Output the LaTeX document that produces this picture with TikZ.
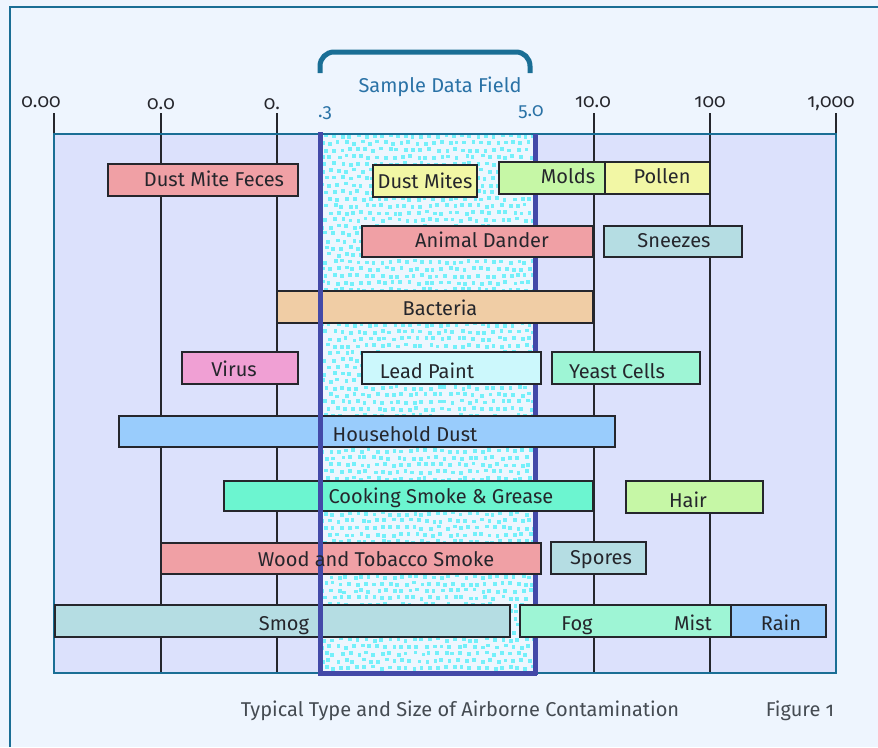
\documentclass[tikz,border=0pt]{standalone}
\usepackage{fontspec}
\setmainfont{Fira Sans}[Numbers=OldStyle]
\definecolor{page}{HTML}{EEF5FE}
\definecolor{plotbg}{HTML}{DCE1FC}
\definecolor{frame}{HTML}{1A6E95}
\definecolor{field}{HTML}{EEF6FE}
\definecolor{dotc}{HTML}{74F0FA}
\definecolor{purp}{HTML}{4349A8}
\definecolor{ink}{HTML}{25262C}
\definecolor{capt}{HTML}{454B52}
\definecolor{tealtxt}{HTML}{2A72A6}
\definecolor{rose}{HTML}{F0A0A5}
\definecolor{lemon}{HTML}{F2F7A5}
\definecolor{lime}{HTML}{C6F7A6}
\definecolor{sky}{HTML}{B5DDE3}
\definecolor{peach}{HTML}{F0CDA5}
\definecolor{pink}{HTML}{F0A0D4}
\definecolor{ice}{HTML}{CCF8FC}
\definecolor{mint}{HTML}{9EF5D5}
\definecolor{blu}{HTML}{99CCFC}
\definecolor{aqua}{HTML}{6CF5D0}
\tikzset{
  bar/.style={draw=ink, line width=1.6pt},
  lbl/.style={text=ink, anchor=base, inner sep=0pt, font=\fontsize{20}{22}\selectfont},
  axl/.style={lbl, font=\fontsize{19}{21}\selectfont},
  tlbl/.style={lbl, text=tealtxt},
  gridline/.style={draw=ink, line width=1.6pt},
}
\begin{document}
\begin{tikzpicture}[x=1pt,y=-1pt]
   \useasboundingbox (0,0) rectangle (878,747);
   % page and frame
   \fill[page] (0,0) rectangle (878,747);
   \draw[frame, line width=2.5pt] (10,747) -- (10,7) -- (878,7);
   % plot area
   \fill[plotbg] (54,134) rectangle (836,673);
   % sample data field
   \begin{scope}
     \clip (320,134) rectangle (535,673);
     \fill[field] (320,134) rectangle (535,673);
     \pgfmathsetseed{7}
     \foreach \j in {0,...,78} \foreach \i in {0,...,27} {
       \pgfmathsetmacro\px{316+8*\i+4*mod(\j,2)+1.8*rand}
       \pgfmathsetmacro\py{134+7*\j+1.5*rand}
       \fill[dotc] (\px,\py) rectangle ++(3.8,3.8);
     }
   \end{scope}
   % grid
   \draw[gridline] (54,113) -- (54,134);
   \draw[gridline] (836,113) -- (836,134);
   \foreach \gx in {161,277,594,710}
     \draw[gridline] (\gx,113) -- (\gx,673);
   \draw[frame, line width=2.2pt] (54,134) rectangle (836,673);
   \draw[purp, line width=5pt] (535,134) -- (535,675);
   % bars
   \draw[bar, fill=rose]  (108,164) rectangle (298,196);
   \draw[bar, fill=lemon] (373,165) rectangle (477,197);
   \draw[bar, fill=lime]  (499,162) rectangle (605,194);
   \draw[bar, fill=lemon] (605,162) rectangle (710,194);
   \draw[bar, fill=rose]  (362,226) rectangle (593,257);
   \draw[bar, fill=sky]   (604,226) rectangle (742,257);
   \draw[bar, fill=peach] (277,291) rectangle (593,323);
   \draw[bar, fill=pink]  (182,352) rectangle (298,384);
   \draw[bar, fill=ice]   (362,352) rectangle (541,384);
   \draw[bar, fill=mint]  (552,352) rectangle (700,384);
   \draw[bar, fill=blu]   (119,416) rectangle (615,447);
   \draw[bar, fill=aqua]  (224,481) rectangle (593,511);
   \draw[bar, fill=lime]  (626,481) rectangle (763,513);
   \draw[bar, fill=rose]  (161,543) rectangle (541,574);
   \draw[bar, fill=sky]   (551,542) rectangle (646,574);
   \draw[bar, fill=sky]   (55,605) rectangle (510,637);
   \draw[bar, fill=mint]  (520,605) rectangle (731,637);
   \draw[bar, fill=blu]   (731,605) rectangle (826,637);
   % field border
   \draw[purp, line width=5pt] (320,132) -- (320,673) -- (537,673);
   % bracket
   \draw[frame, line width=5pt, rounded corners=14pt] (320,73) -- (320,52) -- (530,52) -- (530,73);
   \node[tlbl] (sdf) at (440,92) {Sample Data Field};
   % axis labels
   \node[axl] (a0) at (41,107) {0.00};
   \node[axl] (a1) at (161,109) {0.0};
   \node[axl] (a2) at (272,109) {0.};
   \node[tlbl, font=\fontsize{19}{21}\selectfont] (a3) at (325,117) {.3};
   \node[tlbl, font=\fontsize{19}{21}\selectfont] (a4) at (531,116) {5.0};
   \node[axl] (a5) at (593,107) {10.0};
   \node[axl] (a6) at (710,107) {100};
   \node[axl] (a7) at (831,107) {1,000};
   % bar labels
   \node[lbl] (feces)  at (214,186) {Dust Mite Feces};
   \node[lbl] (mites)  at (425,188) {Dust Mites};
   \node[lbl] (molds)  at (568,183) {Molds};
   \node[lbl] (pollen) at (662,183) {Pollen};
   \node[lbl] (dander) at (482,247) {Animal Dander};
   \node[lbl] (sneeze) at (674,247) {Sneezes};
   \node[lbl] (bact)   at (440,315) {Bacteria};
   \node[lbl] (virus)  at (234,376) {Virus};
   \node[lbl] (lead)   at (427,378) {Lead Paint};
   \node[lbl] (yeast)  at (617,378) {Yeast Cells};
   \node[lbl] (dust)   at (405,441) {Household Dust};
   \node[lbl] (cook)   at (441,503) {Cooking Smoke \& Grease};
   \node[lbl] (hair)   at (688,507) {Hair};
   \node[lbl] (wood)   at (376,566) {Wood and Tobacco Smoke};
   \node[lbl] (spores) at (601,564) {Spores};
   \node[lbl] (smog)   at (284,630) {Smog};
   \node[lbl] (fog)    at (577,630) {Fog};
   \node[lbl] (mist)   at (693,630) {Mist};
   \node[lbl] (rain)   at (781,630) {Rain};
   % caption
   \node[lbl, text=capt] (title) at (460,716) {Typical Type and Size of Airborne Contamination};
   \node[lbl, text=capt] (fig)   at (800,716) {Figure 1};
\end{tikzpicture}
\end{document}
